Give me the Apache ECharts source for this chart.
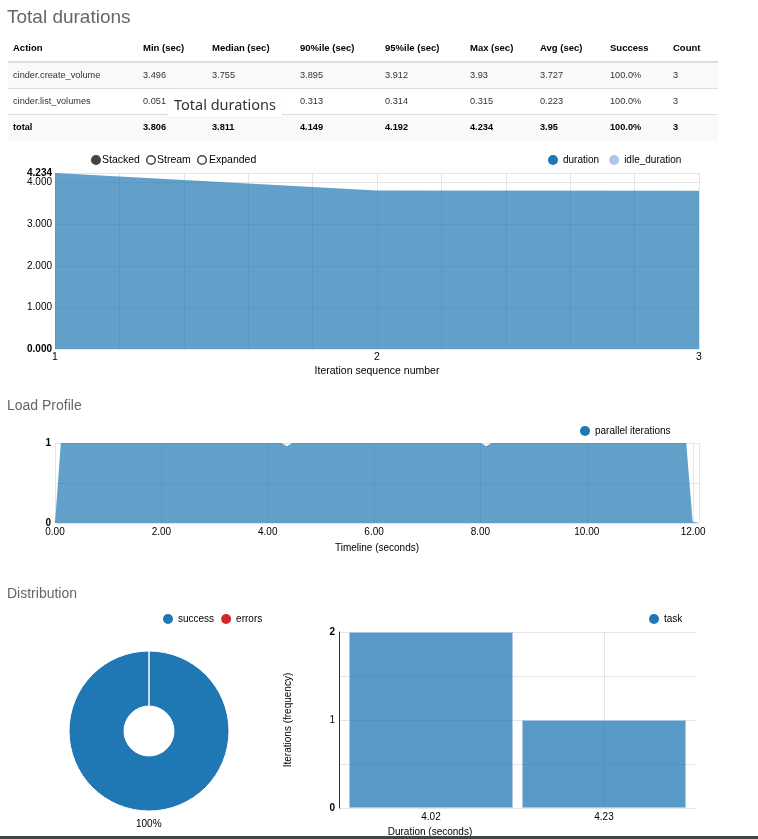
<!DOCTYPE html>
<html><head><meta charset="utf-8">
<script src="https://cdn.jsdelivr.net/npm/echarts@6/dist/echarts.min.js"></script>
<style>
html,body{margin:0;padding:0;background:#fff;}
body{width:758px;height:839px;position:relative;overflow:hidden;font-family:'Liberation Sans',Arial,sans-serif;}
#chart{position:absolute;left:0;top:0;width:758px;height:839px;}
#heading{position:absolute;left:7px;top:4px;font-size:19px;color:#666;line-height:26px;z-index:2;}
#tbl{position:absolute;left:8px;top:35px;width:710px;z-index:2;}
.row{display:flex;box-sizing:content-box;}
.cell{box-sizing:border-box;padding-left:5px;white-space:nowrap;overflow:hidden;}
.hdr{height:26px;line-height:26px;border-bottom:2px solid #ddd;font-weight:bold;font-size:9.5px;color:#000;}
.body{height:25px;line-height:25px;font-size:9.2px;color:#333;}
.body.sep{border-bottom:1px solid #ddd;}
.body.stripe{background:#f9f9f9;}
.body.last{height:26px;line-height:25px;font-weight:bold;color:#000;}
#tip{position:absolute;left:168px;top:92px;width:114px;height:25px;line-height:25px;background:#fff;text-align:center;font-family:'Noto Sans',sans-serif;font-size:14.5px;color:#333;z-index:3;border-radius:2px;box-shadow:0 0 2px rgba(0,0,0,0.08);}
#bottomline{position:absolute;left:0;top:836px;width:758px;height:3px;background:#3b4845;z-index:2;}
</style>
</head>
<body>
<div id="chart"></div>
<div id="heading"></div>
<div id="tbl"></div>
<div id="tip"></div>
<div id="bottomline"></div>
<script>
// ---------- data ----------
const pageTitle = 'Total durations';
const tooltipText = 'Total durations';
const tableHeaders = ['Action', 'Min (sec)', 'Median (sec)', '90%ile (sec)', '95%ile (sec)', 'Max (sec)', 'Avg (sec)', 'Success', 'Count'];
const rowCreateVolume = ['cinder.create_volume', '3.496', '3.755', '3.895', '3.912', '3.93', '3.727', '100.0%', '3'];
const rowListVolumes = ['cinder.list_volumes', '0.051', '0.303', '0.313', '0.314', '0.315', '0.223', '100.0%', '3'];
const rowTotal = ['total', '3.806', '3.811', '4.149', '4.192', '4.234', '3.95', '100.0%', '3'];

const stackModes = ['Stacked', 'Stream', 'Expanded'];
const iterations = [1, 2, 3];
const durations = [4.234, 3.811, 3.806];
const idleDurations = [0, 0, 0];
const durYTicks = [0, 1, 2, 3, 4, 4.234];

const loadTimes = [0, 0.11, 4.26, 4.36, 4.46, 8.01, 8.11, 8.21, 11.87, 11.99, 12.11];
const loadValues = [0, 1, 1, 0.96, 1, 1, 0.96, 1, 1, 0.015, 0];

const pieNames = ['success', 'errors'];
const pieValues = [3, 0];

const histBins = [4.02, 4.23];
const histCounts = [2, 1];
const histVGrid = [4.23];

// ---------- table (HTML) ----------
const colWidths = [130, 69, 88, 85, 85, 70, 70, 63, 50];
document.getElementById('heading').textContent = pageTitle;
document.getElementById('tip').textContent = tooltipText;
const tbl = document.getElementById('tbl');
function makeRow(cells, cls) {
  const r = document.createElement('div');
  r.className = 'row ' + cls;
  cells.forEach((c, i) => {
    const d = document.createElement('div');
    d.className = 'cell';
    d.style.width = colWidths[i] + 'px';
    d.textContent = c;
    r.appendChild(d);
  });
  tbl.appendChild(r);
}
makeRow(tableHeaders, 'hdr');
makeRow(rowCreateVolume, 'body sep stripe');
makeRow(rowListVolumes, 'body sep');
makeRow(rowTotal, 'body stripe last');

// ---------- chart ----------
const FONT = "'Liberation Sans', Arial, sans-serif";
const BLUE = '#1f77b4';
const LIGHT = '#aec7e8';
const RED = '#d62728';
const GRID = { show: true, lineStyle: { color: '#e5e5e5', width: 1, type: 'solid' } };
const boldRich = { b: { fontWeight: 'bold', fontSize: 10, color: '#000', fontFamily: FONT } };
const near = (a, b) => Math.abs(a - b) < 1e-6;
const durMax = Math.max(...durations);

const chart = echarts.init(document.getElementById('chart'), null, { renderer: 'canvas' });

const radioGraphics = [];
const radioCx = [96, 151, 202];
const radioTx = [102, 157, 209];
stackModes.forEach((m, i) => {
  radioGraphics.push({ type: 'circle', shape: { cx: radioCx[i], cy: 160, r: 4.3 },
    style: { fill: i === 0 ? '#444' : '#fff', stroke: '#444', lineWidth: 1.5 } });
  radioGraphics.push({ type: 'text', x: radioTx[i], y: 160,
    style: { text: m, fontSize: 10.5, fontFamily: FONT, fill: '#000', verticalAlign: 'middle', align: 'left' } });
});

const legendBase = { icon: 'circle', itemWidth: 10, itemHeight: 10, padding: 0, selectedMode: false,
  textStyle: { fontSize: 10, color: '#000', fontFamily: FONT }, orient: 'horizontal' };

const option = {
  animation: false,
  backgroundColor: 'transparent',
  textStyle: { fontFamily: FONT },
  title: [
    { text: 'Load Profile', left: 7, top: 399, padding: 0, textStyle: { fontSize: 14, fontWeight: 'normal', color: '#666', fontFamily: FONT } },
    { text: 'Distribution', left: 7, top: 587, padding: 0, textStyle: { fontSize: 14, fontWeight: 'normal', color: '#666', fontFamily: FONT } }
  ],
  legend: [
    Object.assign({}, legendBase, { left: 548, top: 155, itemGap: 10,
      data: [{ name: 'duration', itemStyle: { color: BLUE, opacity: 1, borderWidth: 0 } }, { name: 'idle_duration', itemStyle: { color: LIGHT, opacity: 1, borderWidth: 0 } }] }),
    Object.assign({}, legendBase, { left: 580, top: 426,
      data: [{ name: 'parallel iterations', itemStyle: { color: BLUE, opacity: 1, borderWidth: 0 } }] }),
    Object.assign({}, legendBase, { left: 163, top: 614, itemGap: 7,
      data: [{ name: 'success', itemStyle: { color: BLUE, borderWidth: 0 } }, { name: 'errors', itemStyle: { color: RED, borderWidth: 0 } }] }),
    Object.assign({}, legendBase, { left: 649, top: 614,
      data: [{ name: 'task', itemStyle: { color: BLUE, opacity: 1, borderWidth: 0 } }] })
  ],
  grid: [
    { left: 55, top: 173, width: 644, height: 176, containLabel: false, outerBoundsMode: 'none' },
    { left: 55, top: 443, width: 644, height: 80, containLabel: false, outerBoundsMode: 'none' },
    { left: 339, top: 632, width: 357, height: 176, containLabel: false, outerBoundsMode: 'none' }
  ],
  xAxis: [
    { gridIndex: 0, type: 'value', min: 1, max: 3, interval: 0.2,
      axisLine: { show: false }, axisTick: { show: false }, splitLine: GRID,
      axisLabel: { margin: 3, fontSize: 10.5, color: '#000', hideOverlap: false, showMinLabel: true, showMaxLabel: true,
        formatter: v => near(v, Math.round(v)) ? String(Math.round(v)) : '' },
      name: 'Iteration sequence number', nameLocation: 'middle', nameGap: 17,
      nameTextStyle: { fontSize: 10.5, color: '#000' } },
    { gridIndex: 1, type: 'value', min: 0, max: 12.11, interval: 2,
      axisLine: { show: false }, axisTick: { show: false }, splitLine: GRID,
      axisLabel: { margin: 4, fontSize: 10, color: '#000', hideOverlap: false, showMinLabel: true, showMaxLabel: true,
        formatter: v => (near(v / 2, Math.round(v / 2))) ? v.toFixed(2) : '' },
      name: 'Timeline (seconds)', nameLocation: 'middle', nameGap: 20,
      nameTextStyle: { fontSize: 10, color: '#000' } },
    { gridIndex: 2, type: 'value', min: 3.9083, max: 4.3417,
      axisLine: { show: false }, axisTick: { show: false, customValues: histBins }, splitLine: { show: false },
      axisLabel: { margin: 4, fontSize: 10, color: '#000', customValues: histBins, formatter: v => v.toFixed(2) } }
  ],
  yAxis: [
    { gridIndex: 0, type: 'value', min: 0, max: durMax,
      axisLine: { show: false }, axisTick: { show: false, customValues: durYTicks }, splitLine: GRID,
      axisLabel: { margin: 3, fontSize: 10, color: '#000', hideOverlap: false, customValues: durYTicks, rich: boldRich,
        formatter: v => near(v, durMax) ? '' : (near(v, 0) ? '{b|' + v.toFixed(3) + '}' : v.toFixed(3)) } },
    { gridIndex: 1, type: 'value', min: 0, max: 1, interval: 0.5,
      axisLine: { show: false }, axisTick: { show: false }, splitLine: GRID,
      axisLabel: { margin: 4, fontSize: 10, color: '#000', hideOverlap: false, showMinLabel: true, showMaxLabel: true, rich: boldRich,
        formatter: v => (near(v, 0) || near(v, 1)) ? '{b|' + v + '}' : '' } },
    { gridIndex: 2, type: 'value', min: 0, max: 2, interval: 0.5,
      axisLine: { show: true, lineStyle: { color: '#333', width: 1 } }, axisTick: { show: false }, splitLine: GRID,
      axisLabel: { margin: 4, fontSize: 10, color: '#000', hideOverlap: false, showMinLabel: true, showMaxLabel: true, rich: boldRich,
        formatter: v => near(v, Math.round(v)) ? ((near(v, 0) || near(v, 2)) ? '{b|' + v + '}' : String(v)) : '' },
      name: 'Iterations (frequency)', nameLocation: 'middle', nameGap: 46, nameRotate: 90,
      nameTextStyle: { fontSize: 10, color: '#000' } },
    { gridIndex: 0, type: 'value', min: 0, max: durMax, position: 'left',
      axisLine: { show: false }, axisTick: { show: false, customValues: [durMax] }, splitLine: { show: false },
      axisLabel: { margin: 3, fontSize: 10, color: '#000', hideOverlap: false, customValues: [durMax], rich: boldRich,
        formatter: v => '{b|' + v.toFixed(3) + '}' } }
  ],
  series: [
    { name: 'duration', type: 'line', xAxisIndex: 0, yAxisIndex: 0, color: BLUE,
      data: iterations.map((x, i) => [x, durations[i]]),
      symbol: 'none', showSymbol: false, lineStyle: { width: 0 },
      areaStyle: { color: BLUE, opacity: 0.7 }, emphasis: { disabled: true }, silent: true },
    { name: 'idle_duration', type: 'line', xAxisIndex: 0, yAxisIndex: 0, color: LIGHT,
      data: iterations.map((x, i) => [x, idleDurations[i]]),
      symbol: 'none', showSymbol: false, lineStyle: { width: 0 },
      areaStyle: { color: LIGHT, opacity: 0.7 }, emphasis: { disabled: true }, silent: true },
    { name: 'parallel iterations', type: 'line', xAxisIndex: 1, yAxisIndex: 1, color: BLUE,
      data: loadTimes.map((t, i) => [t, loadValues[i]]),
      symbol: 'none', showSymbol: false, lineStyle: { width: 0 },
      areaStyle: { color: BLUE, opacity: 0.7 }, emphasis: { disabled: true }, silent: true },
    { name: 'Distribution', type: 'pie', center: [149, 731], radius: [25, 80], startAngle: 90, clockwise: true,
      avoidLabelOverlap: false, silent: true, emphasis: { disabled: true },
      itemStyle: { borderColor: '#fff', borderWidth: 1 },
      label: { show: true, position: 'outside', formatter: '{d}%', fontSize: 10, color: '#000', fontFamily: FONT, distanceToLabelLine: -13 },
      labelLine: { show: false, length: 13, length2: 0 },
      data: pieNames.map((n, i) => ({ name: n, value: pieValues[i],
        itemStyle: { color: i === 0 ? BLUE : RED },
        label: { show: pieValues[i] > 0 } })) },
    { name: 'task', type: 'bar', xAxisIndex: 2, yAxisIndex: 2, barWidth: 164, color: BLUE,
      data: histBins.map((b, i) => [b, histCounts[i]]),
      itemStyle: { color: 'rgba(31,119,180,0.75)', borderColor: 'rgba(174,199,232,0.9)', borderWidth: 1 },
      emphasis: { disabled: true }, silent: true, z: 2,
      markLine: { silent: true, symbol: 'none', z: 1, animation: false, label: { show: false },
        lineStyle: { color: '#e5e5e5', width: 1, type: 'solid' },
        data: histVGrid.map(b => ({ xAxis: b })) } }
  ],
  graphic: radioGraphics.concat([
    { type: 'text', x: 430, y: 832, style: { text: 'Duration (seconds)', fontSize: 10, fontFamily: FONT, fill: '#000', align: 'center', verticalAlign: 'middle' } }
  ])
};
chart.setOption(option);
</script>
</body></html>
